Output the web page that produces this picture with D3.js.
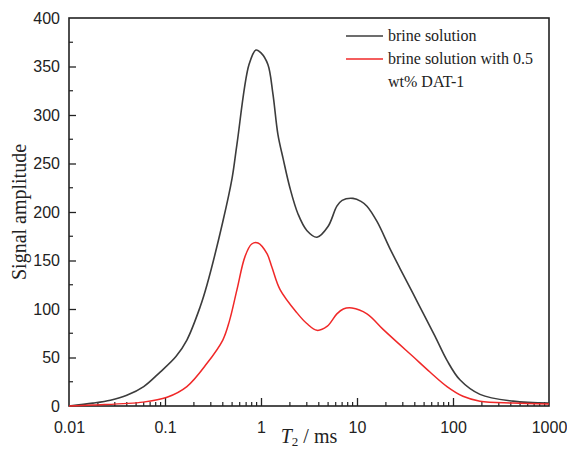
<!DOCTYPE html>
<html>
<head>
<meta charset="utf-8">
<script src="https://cdn.jsdelivr.net/npm/d3@7"></script>
<style>
  body { margin: 0; background: #fff; }
  svg { display: block; }
</style>
</head>
<body>
<div id="graph"></div>
<script>
/// Data
var t2Brine = [0.01, 0.0178, 0.027, 0.04, 0.06, 0.089, 0.13, 0.169, 0.232, 0.274, 0.40, 0.50, 0.562, 0.75, 0.887, 1.0, 1.18, 1.33, 1.5, 1.7, 2.0, 2.43, 3.0, 3.83, 4.99, 6.17, 7.0, 9.08, 11, 12.7, 16.2, 22.1, 28, 38.3, 48.7, 64.9, 86.6, 118, 191, 422, 1000];
var ampBrine = [0, 3, 6, 11, 20, 35, 51, 68, 102, 125, 190, 235, 270, 352, 367, 364, 352, 322, 280, 255, 225, 198, 181, 174, 185, 206, 212, 214, 211, 206, 190, 162, 142, 116, 96, 72, 47, 27, 12, 5, 3];

var t2Dat = [0.01, 0.0178, 0.059, 0.105, 0.169, 0.274, 0.40, 0.47, 0.562, 0.681, 0.80, 0.93, 1.155, 1.30, 1.58, 2.37, 3.0, 3.83, 4.87, 6.17, 7.2, 8.87, 12.7, 18.7, 28.1, 38.3, 57.5, 86.6, 127, 191, 422, 1000];
var ampDat = [0, 1, 4, 9, 20, 44, 68, 88, 120, 154, 167, 168, 157, 143, 120, 96, 85, 78, 82, 95, 100, 101, 95, 79, 63, 51, 35, 20, 10, 5, 3, 2];

var xTicks = [0.01, 0.1, 1, 10, 100, 1000];
var xTickLabels = ["0.01", "0.1", "1", "10", "100", "1000"];
var yTicks = [0, 50, 100, 150, 200, 250, 300, 350, 400];
var legendNames = ["brine solution", "brine solution with 0.5", "wt% DAT-1"];

//Geometry
var W = 567, H = 450;
var margin = { top: 18, right: 18, bottom: 44, left: 69 };
var width = W - margin.left - margin.right;
var height = H - margin.top - margin.bottom;

var xScale = d3.scaleLog().domain([0.01, 1000]).range([0, width]);
var yScale = d3.scaleLinear().domain([0, 400]).range([height, 0]);

var svg = d3.select("#graph").append("svg")
  .attr("width", W).attr("height", H)
  .append("g")
  .attr("transform", "translate(" + margin.left + "," + margin.top + ")");

var axisColor = "#222";
var tickFont = "'Liberation Sans', Arial, sans-serif";
var serif = "'Liberation Serif', 'Times New Roman', serif";

// minor ticks on the log axis
var xMinor = [];
for (var e = -2; e < 3; e++) {
  for (var k = 2; k < 10; k++) xMinor.push(k * Math.pow(10, e));
}
var yMinor = d3.range(25, 400, 50);

var xAxis = svg.append("g")
  .attr("transform", "translate(0," + height + ")");
xAxis.call(d3.axisBottom(xScale).tickValues(xTicks)
  .tickFormat(function (d, i) { return xTickLabels[i]; })
  .tickSizeInner(-8).tickSizeOuter(0).tickPadding(16));
xAxis.selectAll(".tick")
  .filter(function (d) { return d === 0.01 || d === 1000; })
  .select("line").remove();
xAxis.selectAll(".mtick").data(xMinor).join("line")
  .attr("x1", function (d) { return xScale(d); })
  .attr("x2", function (d) { return xScale(d); })
  .attr("y1", 0).attr("y2", -4)
  .attr("stroke", axisColor).attr("stroke-width", 1.2);

var yAxis = svg.append("g");
yAxis.call(d3.axisLeft(yScale).tickValues(yTicks)
  .tickSizeInner(-7).tickSizeOuter(0).tickPadding(9));
yAxis.selectAll(".tick")
  .filter(function (d) { return d === 0 || d === 400; })
  .select("line").remove();
yAxis.selectAll(".mtick").data(yMinor).join("line")
  .attr("x1", 0).attr("x2", 4)
  .attr("y1", function (d) { return yScale(d); })
  .attr("y2", function (d) { return yScale(d); })
  .attr("stroke", axisColor).attr("stroke-width", 1.2);

svg.selectAll(".tick text")
  .attr("font-family", tickFont)
  .attr("font-size", "16px")
  .attr("fill", axisColor);
svg.selectAll(".tick line").attr("stroke", axisColor).attr("stroke-width", 1.3);
svg.selectAll(".domain").remove();

// frame
svg.append("rect")
  .attr("width", width).attr("height", height)
  .attr("fill", "none")
  .attr("stroke", axisColor)
  .attr("stroke-width", 1.6);

// curves
var line = d3.line()
  .x(function (d) { return xScale(d[0]); })
  .y(function (d) { return yScale(d[1]); })
  .curve(d3.curveCatmullRom.alpha(0.5));

svg.append("path")
  .datum(d3.zip(t2Brine, ampBrine))
  .attr("fill", "none")
  .attr("stroke", "#3c3c3c")
  .attr("stroke-width", 1.6)
  .attr("d", line);

svg.append("path")
  .datum(d3.zip(t2Dat, ampDat))
  .attr("fill", "none")
  .attr("stroke", "#f02828")
  .attr("stroke-width", 1.5)
  .attr("d", line);

// legend
var legend = svg.append("g")
  .attr("transform", "translate(" + (346 - margin.left) + "," + (36 - margin.top) + ")");
legend.append("line").attr("x1", 0).attr("x2", 37).attr("y1", 0).attr("y2", 0)
  .attr("stroke", "#3c3c3c").attr("stroke-width", 1.6);
legend.append("line").attr("x1", 0).attr("x2", 37).attr("y1", 23).attr("y2", 23)
  .attr("stroke", "#f02828").attr("stroke-width", 1.5);
legend.selectAll("text").data(legendNames).join("text")
  .attr("x", 42)
  .attr("y", function (d, i) { return i * 23 + 5; })
  .attr("font-family", serif)
  .attr("font-size", "16px")
  .attr("fill", axisColor)
  .text(function (d) { return d; });

// axis titles
svg.append("text")
  .attr("transform", "translate(" + (26 - margin.left) + "," + (height / 2) + "),rotate(-90)")
  .attr("text-anchor", "middle")
  .attr("font-family", serif)
  .attr("font-size", "20px")
  .attr("fill", axisColor)
  .text("Signal amplitude");

var xt = svg.append("text")
  .attr("x", width / 2)
  .attr("y", height + 37)
  .attr("text-anchor", "middle")
  .attr("font-family", serif)
  .attr("font-size", "20px")
  .attr("fill", axisColor);
xt.append("tspan").attr("font-style", "italic").text("T");
xt.append("tspan").attr("font-size", "13px").attr("dy", "3").text("2");
xt.append("tspan").attr("dy", "-3").text(" / ms");
</script>
</body>
</html>
